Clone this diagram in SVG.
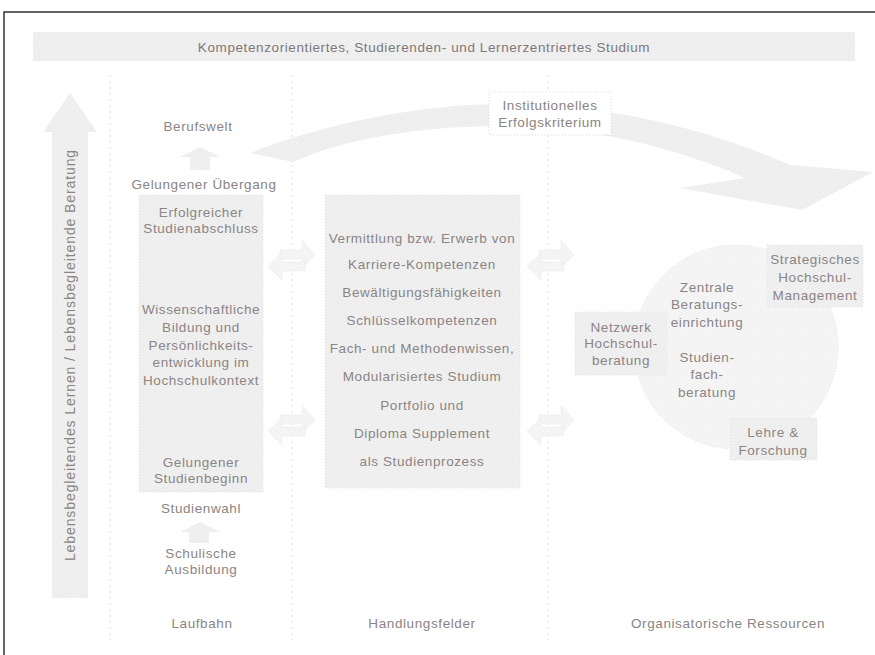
<svg xmlns="http://www.w3.org/2000/svg" width="875" height="655" viewBox="0 0 875 655">
<defs>
<pattern id="hatch" width="6" height="6" patternUnits="userSpaceOnUse">
<rect width="6" height="6" fill="#f2f1f1"/>
<path d="M0,6 L3,3 L6,6 M0,3 L3,0 L6,3" stroke="#e8e6e6" stroke-width="0.7" fill="none"/>
</pattern>
<pattern id="hatch2" width="6" height="6" patternUnits="userSpaceOnUse">
<rect width="6" height="6" fill="#f7f6f6"/>
<path d="M0,6 L3,3 L6,6 M0,3 L3,0 L6,3" stroke="#eeecec" stroke-width="0.7" fill="none"/>
</pattern>
<style>
.t{font-family:"Liberation Sans",Arial,sans-serif;font-size:13.5px;letter-spacing:0.6px;fill:#8a8484;text-anchor:middle;dominant-baseline:central}
.tb{font-family:"Liberation Sans",Arial,sans-serif;font-size:13.5px;letter-spacing:0.6px;fill:#7e7878;text-anchor:middle;dominant-baseline:central}
.tv{font-family:"Liberation Sans",Arial,sans-serif;font-size:14px;letter-spacing:0.9px;fill:#8a8484;text-anchor:middle;dominant-baseline:central}
.fill{fill:url(#hatch)}
.box{fill:url(#hatch);stroke:#e4e1e1;stroke-width:1;stroke-dasharray:1 2}
.circ{fill:url(#hatch2);stroke:#e1dede;stroke-width:1;stroke-dasharray:1 2}
.wbox{fill:#ffffff;stroke:#dcd9d9;stroke-width:1;stroke-dasharray:1 2}
.sep{stroke:#dedbdb;stroke-width:1;stroke-dasharray:2 4;fill:none}
.darr{fill:url(#hatch2);stroke:#e2dfdf;stroke-width:0.8;stroke-dasharray:1 1.5}
</style>
</defs>
<rect width="875" height="655" fill="#ffffff"/>
<path d="M4,655 L4,12 L875,12" fill="none" stroke="#333333" stroke-width="1.5"/>

<g id="separators">
<line class="sep" x1="110" y1="75" x2="110" y2="640"/>
<line class="sep" x1="292" y1="75" x2="292" y2="640"/>
<line class="sep" x1="548" y1="75" x2="548" y2="640"/>
</g>

<g id="banner">
<rect class="fill" x="33" y="32" width="822" height="29"/>
<text class="tb" x="424" y="47">Kompetenzorientiertes, Studierenden- und Lernerzentriertes Studium</text>
</g>

<g id="lifelong">
<polygon class="fill" points="70,93 97,132 88,132 88,598 52,598 52,132 43,132"/>
<text class="tv" transform="translate(70,355) rotate(-90)">Lebensbegleitendes Lernen / Lebensbegleitende Beratung</text>
</g>

<g id="connectors">
<path class="fill" d="M250,153 C320,125 420,103 510,104 C600,105 700,125 790,165 L873,172 L802,210 L680,188 L745,178 C670,145 590,128 510,126 C420,125 340,140 293,162 Z"/>
<polygon class="fill" points="200,147 220,157 210,157 210,170 190,170 190,157 180,157"/>
<polygon class="fill" points="200,522 220,532 209,532 209,543 189,543 189,532 180,532"/>
<g id="arrow-l1"><polygon class="darr" points="280,250 302,250 302,240 315,255 302,268 302,259 280,259"/><polygon class="darr" points="305,262 282,262 282,253 268,266 282,280 282,271 305,271"/></g>
<g id="arrow-l2"><polygon class="darr" points="280,415 302,415 302,405 315,420 302,433 302,424 280,424"/><polygon class="darr" points="305,427 282,427 282,418 268,431 282,445 282,436 305,436"/></g>
<g id="arrow-r1"><polygon class="darr" points="539,250 561,250 561,240 574,255 561,268 561,259 539,259"/><polygon class="darr" points="564,262 541,262 541,253 527,266 541,280 541,271 564,271"/></g>
<g id="arrow-r2"><polygon class="darr" points="539,415 561,415 561,405 574,420 561,433 561,424 539,424"/><polygon class="darr" points="564,427 541,427 541,418 527,431 541,445 541,436 564,436"/></g>
</g>

<g id="laufbahn">
<text class="t" x="198" y="126">Berufswelt</text>
<text class="t" x="204" y="184">Gelungener Übergang</text>
<rect class="box" x="139" y="195" width="124" height="297"/>
<text class="t" x="201" y="212">Erfolgreicher</text>
<text class="t" x="201" y="228">Studienabschluss</text>
<text class="t" x="201" y="309">Wissenschaftliche</text>
<text class="t" x="201" y="327">Bildung und</text>
<text class="t" x="201" y="345">Persönlichkeits-</text>
<text class="t" x="201" y="362">entwicklung im</text>
<text class="t" x="201" y="380">Hochschulkontext</text>
<text class="t" x="201" y="462">Gelungener</text>
<text class="t" x="201" y="478">Studienbeginn</text>
<text class="t" x="201" y="508">Studienwahl</text>
<text class="t" x="201" y="553">Schulische</text>
<text class="t" x="201" y="569">Ausbildung</text>
<text class="t" x="202" y="623">Laufbahn</text>
</g>

<g id="handlungsfelder">
<rect class="box" x="325" y="195" width="195" height="293"/>
<text class="t" x="422" y="238">Vermittlung bzw. Erwerb von</text>
<text class="t" x="422" y="264">Karriere-Kompetenzen</text>
<text class="t" x="422" y="292">Bewältigungsfähigkeiten</text>
<text class="t" x="422" y="320">Schlüsselkompetenzen</text>
<text class="t" x="422" y="348">Fach- und Methodenwissen,</text>
<text class="t" x="422" y="376">Modularisiertes Studium</text>
<text class="t" x="422" y="405">Portfolio und</text>
<text class="t" x="422" y="433">Diploma Supplement</text>
<text class="t" x="422" y="461">als Studienprozess</text>
<text class="t" x="422" y="623">Handlungsfelder</text>
</g>

<g id="kriterium">
<rect class="wbox" x="489" y="92" width="122" height="43"/>
<text class="t" x="550" y="105">Institutionelles</text>
<text class="t" x="550" y="122">Erfolgskriterium</text>
</g>

<g id="ressourcen">
<circle class="circ" cx="736" cy="347" r="102"/>
<text class="t" x="707" y="287">Zentrale</text>
<text class="t" x="707" y="304">Beratungs-</text>
<text class="t" x="707" y="322">einrichtung</text>
<text class="t" x="707" y="357">Studien-</text>
<text class="t" x="707" y="374">fach-</text>
<text class="t" x="707" y="392">beratung</text>
<text class="t" x="728" y="623">Organisatorische Ressourcen</text>
</g>

<g id="netzwerk">
<rect class="box" x="575" y="312" width="92" height="63"/>
<text class="t" x="621" y="327">Netzwerk</text>
<text class="t" x="621" y="343">Hochschul-</text>
<text class="t" x="621" y="360">beratung</text>
</g>

<g id="strategisch">
<rect class="box" x="767" y="245" width="96" height="62"/>
<text class="t" x="815" y="259">Strategisches</text>
<text class="t" x="815" y="277">Hochschul-</text>
<text class="t" x="815" y="295">Management</text>
</g>

<g id="lehre">
<rect class="box" x="730" y="418" width="87" height="42"/>
<text class="t" x="773" y="432">Lehre &amp;</text>
<text class="t" x="773" y="450">Forschung</text>
</g>
</svg>
